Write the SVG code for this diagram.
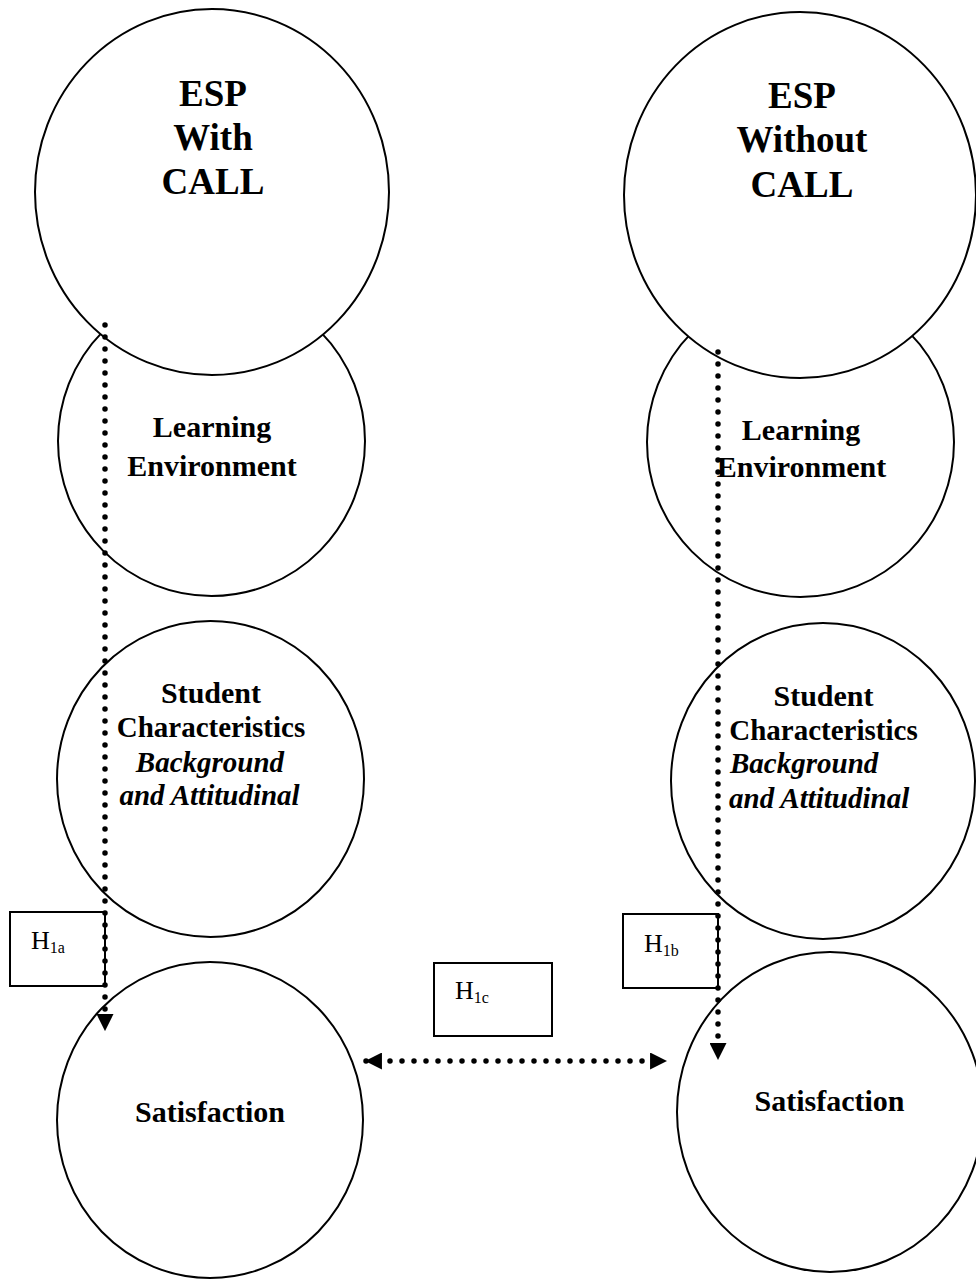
<svg xmlns="http://www.w3.org/2000/svg" width="976" height="1280" viewBox="0 0 976 1280">
<style>
.c{fill:#fff;stroke:#000;stroke-width:2}
.t{font-family:"Liberation Serif","Times New Roman",serif;font-weight:bold;fill:#000;text-anchor:middle}
.i{font-style:italic}
.s{text-anchor:start}
.h{font-family:"Liberation Serif","Times New Roman",serif;fill:#000}
.b{fill:#fff;stroke:#000;stroke-width:2}
.d{fill:none;stroke:#000;stroke-width:5.5;stroke-linecap:round;stroke-dasharray:0 12}
</style>
<defs>
<marker id="ah" viewBox="0 0 16 16" refX="15" refY="8" markerWidth="17" markerHeight="17" markerUnits="userSpaceOnUse" orient="auto-start-reverse">
<path d="M0,0 L16,8 L0,16 z" fill="#000"/>
</marker>
</defs>
<rect width="976" height="1280" fill="#fff"/>
<g id="le-left"><ellipse class="c" cx="211.5" cy="441" rx="153.5" ry="155"/>
<text class="t" font-size="30" x="212" y="437">Learning</text>
<text class="t" font-size="30" x="212" y="476">Environment</text></g>
<g id="esp-left"><ellipse class="c" cx="212" cy="192" rx="177" ry="183"/>
<text class="t" font-size="37" x="213" y="106">ESP</text>
<text class="t" font-size="37" x="213" y="150">With</text>
<text class="t" font-size="37" x="213" y="194">CALL</text></g>
<g id="le-right"><ellipse class="c" cx="800.5" cy="442" rx="153.5" ry="155"/>
<text class="t" font-size="30" x="801" y="440">Learning</text>
<text class="t" font-size="30" x="801.5" y="477">Environment</text></g>
<g id="esp-right"><ellipse class="c" cx="800" cy="195" rx="176" ry="183"/>
<text class="t" font-size="37" x="802" y="108">ESP</text>
<text class="t" font-size="37" x="802" y="152">Without</text>
<text class="t" font-size="37" x="802" y="197">CALL</text></g>
<g id="sc-left"><ellipse class="c" cx="210.5" cy="779" rx="153.5" ry="158"/>
<text class="t" font-size="30" x="211" y="703">Student</text>
<text class="t" font-size="29" x="211" y="737">Characteristics</text>
<text class="t i" font-size="29" x="210" y="772">Background</text>
<text class="t i" font-size="29" x="209.5" y="805">and Attitudinal</text></g>
<g id="sc-right"><ellipse class="c" cx="823" cy="781" rx="152" ry="158"/>
<text class="t" font-size="30" x="823.5" y="706">Student</text>
<text class="t" font-size="29" x="823.5" y="740">Characteristics</text>
<text class="t i s" font-size="29" x="730" y="773">Background</text>
<text class="t i s" font-size="29" x="729" y="808">and Attitudinal</text></g>
<g id="sat-left"><ellipse class="c" cx="210" cy="1120" rx="153" ry="158"/>
<text class="t" font-size="30" x="210" y="1122">Satisfaction</text></g>
<g id="sat-right"><ellipse class="c" cx="830" cy="1112" rx="153" ry="160"/>
<text class="t" font-size="30" x="829.5" y="1111">Satisfaction</text></g>
<g id="h1a"><rect class="b" x="10" y="912" width="95" height="74"/>
<text class="h" font-size="26" x="31" y="949">H<tspan font-size="16" dy="4">1a</tspan></text></g>
<g id="h1b"><rect class="b" x="623" y="914" width="95" height="74"/>
<text class="h" font-size="26" x="644" y="952">H<tspan font-size="16" dy="4">1b</tspan></text></g>
<g id="h1c"><rect class="b" x="434" y="963" width="118" height="73"/>
<text class="h" font-size="26" x="455" y="999">H<tspan font-size="16" dy="4">1c</tspan></text></g>
<g id="connectors">
<path class="d" d="M105,325 L105,1030" marker-end="url(#ah)"/>
<path class="d" d="M718,352 L718,1059" marker-end="url(#ah)"/>
<path class="d" d="M366,1061 L666,1061" marker-start="url(#ah)" marker-end="url(#ah)"/>
</g>
</svg>
